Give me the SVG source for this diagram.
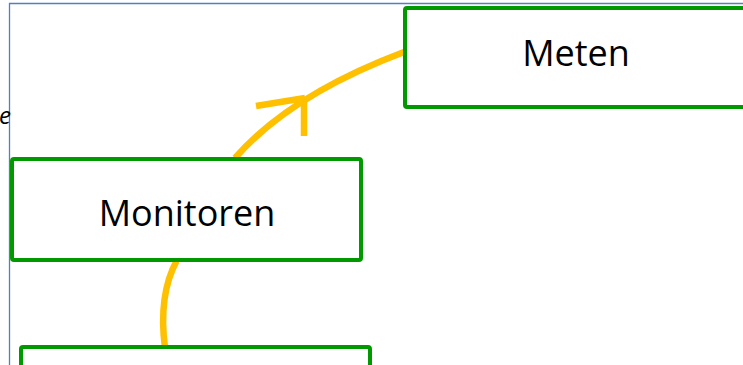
<svg xmlns="http://www.w3.org/2000/svg" width="743" height="365" viewBox="0 0 743 365">
<style>
.box{fill:#fff;stroke:#009a00;stroke-width:4;stroke-linejoin:round}
.lbl{font-family:"Open Sans","Liberation Sans",sans-serif;font-size:36px;fill:#000;text-anchor:middle}
.arc{fill:none;stroke:#ffc000;stroke-width:6.5}
</style>
<rect width="743" height="365" fill="#fff"/>
<path d="M9.5,365 V3.5 H743" fill="none" stroke="#4f81bd" stroke-width="1.3"/>
<text x="-1" y="124" font-family="Open Sans, Liberation Sans, sans-serif" font-size="24" font-style="italic" fill="#000">e</text>
<g id="connectors">
<path class="arc" d="M235,158 Q290,95 404,52"/>
<path class="arc" d="M305,98 L256,106 M304,98 L304,136"/>
<path class="arc" d="M165,348 Q158,295 177,260"/>
</g>
<g id="meten">
<rect class="box" x="405" y="8" width="345" height="99" rx="2"/>
<text class="lbl" x="576" y="66">Meten</text>
</g>
<g id="monitoren">
<rect class="box" x="12" y="159" width="349" height="101" rx="2"/>
<text class="lbl" x="187" y="226">Monitoren</text>
</g>
<g id="bottom">
<rect class="box" x="21" y="347" width="349" height="40" rx="2"/>
</g>
</svg>
